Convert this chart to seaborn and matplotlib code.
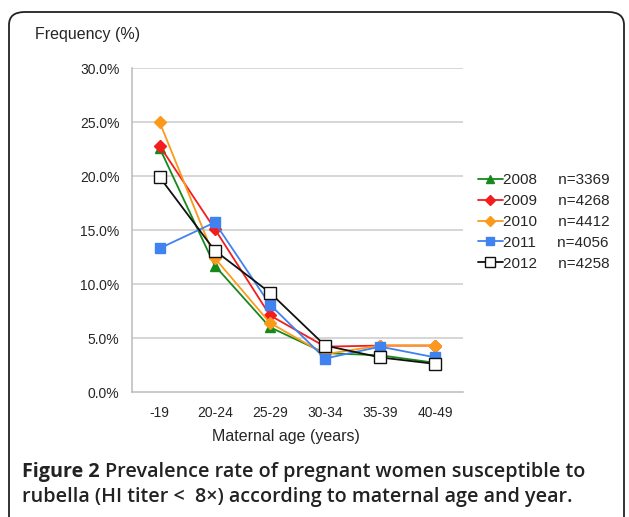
import matplotlib
matplotlib.use("Agg")
import matplotlib.pyplot as plt
from matplotlib.patches import FancyBboxPatch
from matplotlib.lines import Line2D
import seaborn as sns
import pandas as pd

age_groups = ["-19", "20-24", "25-29", "30-34", "35-39", "40-49"]
years = ["2008", "2009", "2010", "2011", "2012"]
n_values = [3369, 4268, 4412, 4056, 4258]
v2008 = [22.6, 11.7, 6.0, 3.6, 3.4, 2.7]
v2009 = [22.8, 15.1, 7.1, 4.2, 4.3, 4.3]
v2010 = [25.0, 12.4, 6.4, 3.5, 4.3, 4.3]
v2011 = [13.3, 15.7, 8.1, 3.1, 4.2, 3.2]
v2012 = [19.9, 13.1, 9.2, 4.3, 3.2, 2.6]
yticks = [0, 5, 10, 15, 20, 25, 30]

series = [v2008, v2009, v2010, v2011, v2012]
rows = []
for yr, vals in zip(years, series):
    for i, (ag, v) in enumerate(zip(age_groups, vals)):
        rows.append({"year": yr, "age": ag, "pos": i, "value": v})
df = pd.DataFrame(rows)

colors = {"2008": "#15891b", "2009": "#f41d1d", "2010": "#fb9a1a", "2011": "#3f82f0", "2012": "#111111"}
markers = {"2008": "^", "2009": "D", "2010": "D", "2011": "s", "2012": "s"}
msize = {"2008": 7, "2009": 6, "2010": 6.5, "2011": 7, "2012": 8}

sns.set_style("white")
plt.rcParams['font.family'] = ['Liberation Sans', 'DejaVu Sans']

fig = plt.figure(figsize=(6.29, 5.17), dpi=100)
ax = fig.add_axes([132/629, 1-392/517, (463-132)/629, (392-68)/517])

for yr in years:
    sub = df[df["year"] == yr]
    face = "white" if yr == "2012" else colors[yr]
    sns.lineplot(data=sub, x="pos", y="value", ax=ax, color=colors[yr],
                 marker=markers[yr], markersize=msize[yr], markerfacecolor=face,
                 markeredgecolor=colors[yr], markeredgewidth=1.0, linewidth=1.3,
                 legend=False, zorder=3)

ax.set_xlim(-0.5, 5.5)
ax.set_ylim(0, 30)
ax.set_yticks(yticks)
ax.set_yticklabels([f"{t:.1f}%" for t in yticks], fontsize=10)
ax.set_xticks(range(len(age_groups)))
ax.set_xticklabels(age_groups, fontsize=10)
ax.set_xticks([i - 0.5 for i in range(len(age_groups) + 1)], minor=True)
ax.tick_params(axis="x", which="major", length=0, pad=10)
ax.tick_params(axis="x", which="minor", length=4, color="#bbbbbb", width=1)
ax.tick_params(axis="y", which="major", length=5, color="#bbbbbb", width=1, pad=4)
ax.set_xlabel("")
ax.set_ylabel("")
for y in yticks[1:]:
    ax.axhline(y, color="#cccccc", linewidth=1.1, zorder=1)
for s in ["top", "right"]:
    ax.spines[s].set_visible(False)
for s in ["left", "bottom"]:
    ax.spines[s].set_color("#bbbbbb")
    ax.spines[s].set_linewidth(1.1)

handles = []
labels = []
for yr, n in zip(years, n_values):
    face = "white" if yr == "2012" else colors[yr]
    handles.append(Line2D([], [], color=colors[yr], marker=markers[yr],
                          markersize=msize[yr] - 1, markerfacecolor=face,
                          markeredgecolor=colors[yr], linewidth=1.3))
    labels.append(f"{yr}     n={n}")
fig.legend(handles, labels, loc="upper left", bbox_to_anchor=(472/629, 1-167/517),
           frameon=False, fontsize=11, handlelength=1.6, handletextpad=0.0,
           labelspacing=0.45, borderaxespad=0)

fig.text(35/629, 1-35/517, "Frequency (%)", fontsize=11.5, va="center", ha="left")
fig.text(286/629, 1-437/517, "Maternal age (years)", fontsize=11.5, va="center", ha="center")

cap_font = ['Open Sans', 'DejaVu Sans']
cap_size = 14.2
t1 = fig.text(22/629, 1-472/517, "Figure 2 ", fontsize=cap_size, va="center", ha="left",
              family=cap_font, fontweight="bold", color="#222222")
fig.canvas.draw()
bb = t1.get_window_extent()
x1 = bb.x1 / fig.dpi / 6.29
fig.text(x1, 1-472/517, "Prevalence rate of pregnant women susceptible to",
         fontsize=cap_size, va="center", ha="left", family=cap_font, fontweight="semibold", color="#222222")
fig.text(22/629, 1-497/517, "rubella (HI titer <  8×) according to maternal age and year.",
         fontsize=cap_size, va="center", ha="left", family=cap_font, fontweight="semibold", color="#222222")

frame = FancyBboxPatch((9/629, -0.05), (624-9)/629, (1-12/517) + 0.05,
                       boxstyle="round,pad=0,rounding_size=0.025",
                       transform=fig.transFigure, fill=False, edgecolor="#222222",
                       linewidth=1.3, clip_on=False)
fig.patches.append(frame)

fig.savefig("out.png", dpi=100)
